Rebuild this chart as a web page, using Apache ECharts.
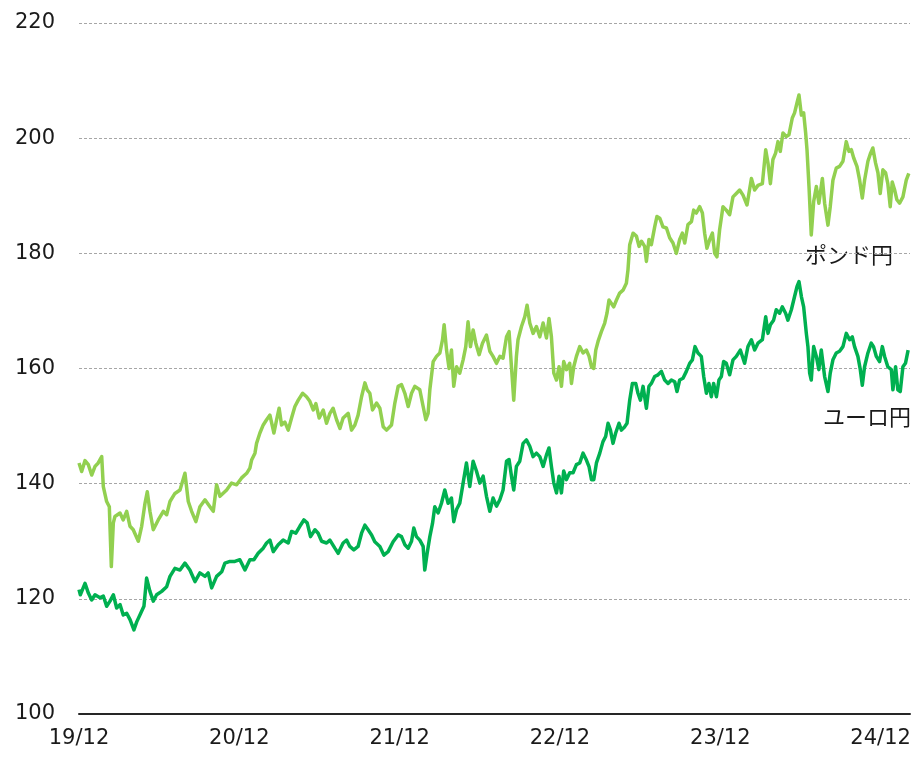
<!DOCTYPE html>
<html>
<head>
<meta charset="utf-8">
<script src="https://cdn.jsdelivr.net/npm/echarts@6/dist/echarts.min.js"></script>
<style>
html,body{margin:0;padding:0;background:#fff;}
#chart{width:916px;height:763px;}
</style>
</head>
<body>
<div id="chart"></div>
<script>
// x values: months elapsed since 2019/12
const xTickLabels = ['19/12','20/12','21/12','22/12','23/12','24/12'];
const yMin = 100, yMax = 220, yStep = 20;

const poundMonths = [0,0.20,0.45,0.70,0.95,1.20,1.44,1.70,1.82,2.07,2.27,2.42,2.57,2.69,3.07,3.31,3.57,3.82,4.06,4.44,4.69,4.94,5.11,5.31,5.56,5.93,6.31,6.56,6.81,7.18,7.56,7.93,8.18,8.43,8.75,9.05,9.43,9.80,10.05,10.30,10.55,11.05,11.42,11.80,12.17,12.55,12.79,
12.92,13.17,13.29,13.54,13.79,14.04,14.29,14.59,14.79,14.98,15.16,15.41,15.66,15.91,16.16,16.41,16.74,17.03,17.28,17.53,17.73,17.98,18.28,18.53,18.78,19.02,19.28,19.53,19.77,20.15,20.40,20.65,20.89,21.15,21.40,21.57,21.77,21.97,22.27,22.52,22.77,23.02,23.39,23.64,23.89,24.14,24.39,24.64,
24.89,25.14,25.51,25.76,25.96,26.13,26.26,26.51,26.76,27.01,27.21,27.33,27.51,27.70,27.88,28.05,28.26,28.50,28.75,28.95,29.12,29.30,29.50,29.70,29.95,30.20,30.50,30.75,30.99,31.25,31.50,31.74,32.00,32.19,32.37,32.54,32.74,32.86,33.12,33.37,33.54,33.74,33.99,34.24,34.49,34.74,34.99,35.18,35.36,35.54,35.74,35.93,36.11,36.28,36.49,36.73,
36.86,37.03,37.23,37.48,37.73,37.98,38.18,38.36,38.53,38.68,38.85,39.10,39.35,39.52,39.67,39.85,40.02,40.23,40.47,40.72,40.97,41.09,41.22,41.47,41.72,41.92,42.10,42.34,42.47,42.66,42.84,43.09,43.26,43.47,43.71,43.97,44.21,44.46,44.71,44.96,45.16,45.34,45.58,45.84,46.01,46.21,46.46,46.66,46.83,47.00,47.21,47.41,47.58,47.75,47.95,48.20,48.45,48.70,
48.95,49.20,49.45,49.70,50.00,50.33,50.57,50.82,51.15,51.40,51.57,51.75,51.94,52.14,52.32,52.49,52.69,52.94,53.14,53.39,53.56,53.74,53.89,54.07,54.24,54.39,54.49,54.64,54.81,54.99,55.19,55.38,55.64,55.81,56.06,56.23,56.43,56.68,56.93,57.18,57.43,57.63,57.81,57.98,58.23,58.43,58.63,58.80,59.05,59.25,59.42,59.62,59.80,59.97,60.17,60.37,60.54,60.72,60.87,61.05,61.22,61.42,61.67,61.92,62.11];

const poundValues = [143.6,142.1,144.0,143.3,141.5,143.0,143.6,144.7,139.5,136.9,136.0,125.6,133.2,134.3,134.9,133.7,135.2,132.6,132.0,130.0,132.6,136.6,138.6,135.2,132.0,133.7,135.2,134.6,136.9,138.3,138.9,141.8,136.9,135.2,133.4,136.0,137.2,136.0,135.2,139.8,137.8,138.9,140.1,139.8,141.0,141.8,142.7,
144.1,145.3,147.0,148.8,150.2,151.1,151.9,148.8,151.1,153.1,150.2,150.7,149.3,151.4,153.4,154.5,155.7,155.1,154.3,152.8,153.9,151.4,152.8,150.5,152.2,153.1,151.1,149.6,151.4,152.2,149.3,150.2,151.9,155.1,157.5,156.3,155.7,152.8,154.0,153.1,149.9,149.3,150.2,154.0,156.9,157.2,155.7,153.4,
155.7,156.9,156.3,153.4,151.1,152.2,156.3,161.2,162.1,162.7,165.0,167.6,163.2,160.0,163.2,156.9,160.3,159.2,161.5,163.8,168.1,163.8,166.7,164.4,162.4,164.4,165.8,163.0,162.1,160.9,162.1,161.8,165.5,166.4,160.3,154.5,162.1,165.0,167.3,169.0,171.0,167.9,166.1,167.3,165.5,167.9,165.3,168.7,165.5,159.2,158.0,160.3,156.9,161.2,159.8,160.9,
157.4,160.3,162.1,163.8,162.7,163.2,162.1,160.3,160.0,163.2,164.7,166.4,167.9,169.6,171.9,171.3,170.7,171.9,173.1,173.6,174.8,177.1,181.5,183.5,183.0,181.2,182.1,181.2,178.6,182.4,181.5,184.6,186.4,186.1,184.6,184.4,182.7,181.8,180.0,182.4,183.5,181.8,185.0,185.5,187.5,187.0,188.1,187.0,183.5,180.9,182.4,183.5,180.0,179.4,184.1,188.1,187.5,186.7,
189.8,190.4,191.0,190.1,188.4,193.0,191.0,191.8,192.1,198.0,195.7,192.1,196.3,197.4,199.4,197.7,200.9,200.3,200.6,203.5,204.4,206.1,207.5,204.0,204.4,200.9,198.0,191.6,183.2,189.0,191.6,188.7,193.0,188.7,184.9,188.1,192.7,194.8,195.1,196.0,199.4,197.7,198.0,196.6,195.1,192.7,189.6,192.7,196.0,197.4,198.3,195.7,194.0,190.4,194.5,194.0,192.1,188.1,192.4,191.0,189.3,188.7,189.8,192.7,193.9];

const euroMonths = [0,0.10,0.45,0.70,0.95,1.20,1.57,1.82,2.07,2.32,2.57,2.82,3.07,3.31,3.57,3.82,4.11,4.32,4.62,4.86,5.06,5.31,5.56,5.81,6.19,6.56,6.81,7.18,7.56,7.93,8.30,8.68,9.05,9.43,9.67,9.93,10.30,10.68,10.92,11.30,11.67,12.04,12.42,12.79,
13.09,13.41,13.79,14.04,14.29,14.54,14.91,15.28,15.66,15.91,16.23,16.53,16.83,17.08,17.33,17.66,17.90,18.16,18.53,18.78,19.15,19.40,19.77,20.03,20.27,20.57,20.89,21.15,21.40,21.64,21.90,22.14,22.52,22.82,23.14,23.51,23.89,24.14,24.39,24.64,
24.89,25.06,25.26,25.51,25.76,25.88,26.06,26.26,26.46,26.63,26.88,27.13,27.38,27.63,27.88,28.05,28.26,28.50,28.75,29.00,29.25,29.50,29.75,30.00,30.25,30.50,30.75,30.99,31.25,31.50,31.74,32.00,32.19,32.37,32.54,32.74,32.99,33.24,33.49,33.74,33.99,34.24,34.49,34.74,34.99,35.18,35.36,35.54,35.74,35.93,36.11,36.28,36.49,36.73,
36.98,37.23,37.48,37.73,37.98,38.18,38.36,38.53,38.73,38.98,39.22,39.42,39.60,39.78,39.97,40.17,40.42,40.60,40.85,41.02,41.22,41.42,41.67,41.84,42.02,42.22,42.47,42.66,42.84,43.09,43.34,43.59,43.84,44.09,44.34,44.59,44.76,44.96,45.21,45.46,45.71,45.91,46.11,46.33,46.58,46.76,46.96,47.15,47.33,47.50,47.71,47.90,48.08,48.25,48.45,48.70,
48.95,49.20,49.50,49.82,50.07,50.33,50.57,50.82,51.15,51.40,51.57,51.75,51.99,52.19,52.44,52.64,52.89,53.06,53.32,53.56,53.74,53.89,54.07,54.24,54.44,54.56,54.69,54.81,54.99,55.19,55.38,55.56,55.81,56.06,56.23,56.43,56.68,56.93,57.18,57.43,57.68,57.88,58.05,58.30,58.48,58.63,58.80,59.05,59.30,59.47,59.68,59.92,60.13,60.30,60.54,60.80,60.92,61.12,61.29,61.47,61.67,61.86,62.06];

const euroValues = [121.6,120.7,122.7,121.0,119.8,120.7,120.2,120.5,118.7,119.6,120.7,118.4,119.0,117.2,117.5,116.4,114.6,116.0,117.5,118.7,123.6,121.3,119.6,120.7,121.3,122.1,123.9,125.3,125.0,126.2,125.0,123.0,124.5,123.9,124.5,121.9,123.9,124.7,126.2,126.5,126.5,126.8,125.0,126.8,
126.8,127.9,128.8,129.7,130.2,128.2,129.4,130.2,129.7,131.7,131.4,132.6,133.7,133.2,130.8,132.0,131.4,130.0,129.7,130.2,128.8,127.9,129.7,130.2,129.1,128.5,129.1,131.4,132.8,132.0,131.1,129.9,129.1,127.6,128.2,129.9,131.1,130.8,129.4,128.8,
130.0,132.3,130.8,130.2,129.1,125.0,127.9,130.8,133.1,136.0,134.9,136.6,138.9,136.6,137.5,133.4,135.5,136.6,140.1,143.6,139.5,143.9,142.2,140.1,141.3,137.8,135.2,137.5,136.1,137.2,138.9,143.9,144.2,141.3,138.9,143.0,143.9,147.0,147.6,146.5,144.7,145.3,144.7,143.0,145.0,146.2,143.0,140.1,138.4,141.3,138.4,142.2,140.7,141.9,
141.9,143.3,143.6,145.3,144.1,142.9,140.7,140.7,143.6,145.3,147.3,148.2,150.5,149.3,147.0,148.8,150.5,149.3,149.9,150.5,154.5,157.4,157.4,155.7,154.5,156.9,153.1,156.9,157.4,158.6,158.9,159.5,158.0,157.4,158.0,157.7,156.0,158.0,158.3,159.5,160.9,161.5,163.8,162.7,162.1,158.6,155.7,157.4,155.1,157.4,155.1,158.0,158.6,161.2,160.9,158.9,
161.5,162.1,163.2,160.9,163.8,165.0,163.2,164.4,165.0,169.0,166.1,167.6,168.4,170.2,169.6,170.7,169.6,168.4,170.2,172.5,174.2,175.1,172.5,170.7,166.1,163.8,159.2,158.0,163.8,162.1,159.8,163.2,158.6,156.0,159.2,161.5,162.7,163.0,163.8,166.1,165.0,165.5,163.8,162.1,159.8,157.1,160.3,162.7,164.4,163.8,162.1,161.2,163.8,162.1,160.3,159.8,156.3,160.3,156.3,156.0,160.3,160.9,163.2];

const seriesNames = ['ポンド円','ユーロ円'];
const seriesColors = ['#92D050','#00B050'];

function pairs(xs, ys){ return xs.map((x,i)=>[x, ys[i]]); }

const chart = echarts.init(document.getElementById('chart'), null, {renderer:'canvas'});
const labelFont = 'DejaVu Sans, Verdana, sans-serif';
chart.setOption({
  animation: false,
  backgroundColor: '#ffffff',
  grid: {left: 79, right: 6, top: 23, bottom: 49, containLabel: false},
  xAxis: {
    type: 'value', min: 0, max: 62.2, interval: 12,
    axisLine: {show: true, lineStyle: {color: '#262626', width: 2}},
    axisTick: {show: false},
    splitLine: {show: false},
    axisLabel: {
      color: '#1a1a1a', fontSize: 21, fontFamily: labelFont, margin: 14,
      showMaxLabel: false,
      formatter: v => { const k = Math.round(v/12); return Math.abs(v - k*12) < 1e-6 ? (xTickLabels[k]||'') : ''; }
    }
  },
  yAxis: {
    type: 'value', min: yMin, max: yMax, interval: yStep,
    axisLine: {show: false}, axisTick: {show: false},
    splitLine: {show: true, lineStyle: {color: '#a6a6a6', width: 1, type: [3,2]}},
    axisLabel: {color: '#1a1a1a', fontSize: 21, fontFamily: labelFont, margin: 24}
  },
  series: [
    {name: seriesNames[0], type: 'line', data: pairs(poundMonths, poundValues), showSymbol: false, symbol: 'none',
     lineStyle: {color: seriesColors[0], width: 3.5, join: 'round'}, itemStyle: {color: seriesColors[0]}},
    {name: seriesNames[1], type: 'line', data: pairs(euroMonths, euroValues), showSymbol: false, symbol: 'none',
     lineStyle: {color: seriesColors[1], width: 3.5, join: 'round'}, itemStyle: {color: seriesColors[1]}}
  ],
  graphic: [
    {type: 'text', left: 805, top: 244, style: {text: seriesNames[0], font: '22px "Noto Sans CJK JP", sans-serif', fill: '#1a1a1a'}},
    {type: 'text', left: 823, top: 406, style: {text: seriesNames[1], font: '22px "Noto Sans CJK JP", sans-serif', fill: '#1a1a1a'}}
  ]
});
</script>
</body>
</html>
